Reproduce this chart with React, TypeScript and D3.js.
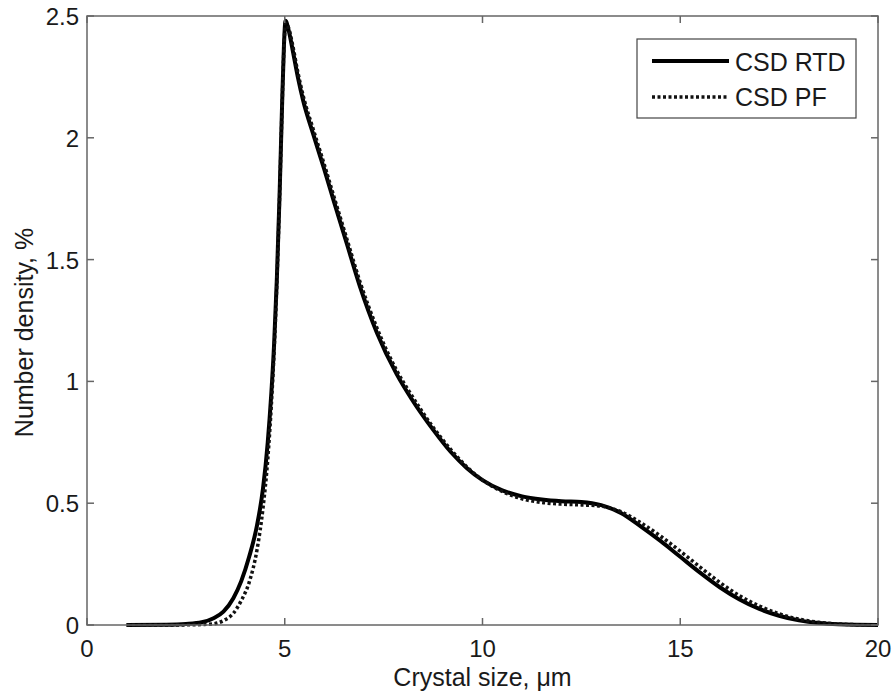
import React from "react";
import * as d3 from "d3";

const sizes = [1, 2, 2.5, 2.9, 3.2, 3.45, 3.7, 3.9, 4.1, 4.3, 4.45, 4.57, 4.66, 4.73, 4.8, 4.87, 4.93, 4.98, 5.02, 5.1, 5.2, 5.33, 5.47, 5.72, 6.0, 6.25, 6.57, 6.9, 7.33, 7.83, 8.2, 8.76, 9.2, 9.6, 10, 10.5, 11, 11.5, 12, 12.5, 13, 13.5, 14, 14.5, 15, 15.5, 16, 16.5, 17, 17.5, 18, 18.5, 19, 20];
const csdRTD = [0, 0.001, 0.004, 0.011, 0.028, 0.055, 0.11, 0.18, 0.28, 0.41, 0.56, 0.75, 0.95, 1.15, 1.42, 1.77, 2.12, 2.38, 2.48, 2.44, 2.36, 2.25, 2.15, 2.015, 1.87, 1.735, 1.565, 1.39, 1.2, 1.03, 0.93, 0.8, 0.71, 0.645, 0.595, 0.553, 0.528, 0.515, 0.508, 0.505, 0.492, 0.46, 0.405, 0.345, 0.28, 0.215, 0.155, 0.105, 0.066, 0.038, 0.019, 0.008, 0.003, 0];
const csdPF = [0, 0, 0.0005, 0.002, 0.005, 0.018, 0.048, 0.1, 0.175, 0.31, 0.48, 0.68, 0.9, 1.12, 1.4, 1.76, 2.11, 2.37, 2.47, 2.45, 2.38, 2.27, 2.17, 2.035, 1.89, 1.755, 1.585, 1.41, 1.22, 1.045, 0.945, 0.81, 0.72, 0.65, 0.595, 0.548, 0.518, 0.503, 0.496, 0.493, 0.488, 0.465, 0.42, 0.365, 0.303, 0.238, 0.175, 0.12, 0.078, 0.046, 0.024, 0.011, 0.004, 0];

const xTicks = [0, 5, 10, 15, 20];
const yTicks = [0, 0.5, 1, 1.5, 2, 2.5];
const legendLabels = ["CSD RTD", "CSD PF"];

export default function App() {
  const W = 894, H = 697;
  const left = 87, right = 878, top = 16, bottom = 625;
  const x = d3.scaleLinear().domain([0, 20]).range([left, right]);
  const y = d3.scaleLinear().domain([0, 2.5]).range([bottom, top]);
  const line = d3.line<number>().x((_, i) => x(sizes[i])).y((d) => y(d)).curve(d3.curveMonotoneX);
  const font = "'Liberation Sans', Arial, sans-serif";
  const axisColor = "#666";
  const textColor = "#1a1a1a";
  const tl = 7;
  const fs = 24;
  return (
    <svg width={W} height={H} style={{ position: "absolute", left: 0, top: 0, background: "#fff" }} fontFamily={font}>
      <rect x={0} y={0} width={W} height={H} fill="#fff" />
      <path d={line(csdRTD) || ""} fill="none" stroke="#000" strokeWidth={4} strokeLinejoin="round" />
      <path d={line(csdPF) || ""} fill="none" stroke="#111" strokeWidth={3.5} strokeDasharray="3 2.5" />
      <rect x={left} y={top} width={right - left} height={bottom - top} fill="none" stroke={axisColor} strokeWidth={1.5} />
      {xTicks.map((t) => (
        <g key={"x" + t}>
          <line x1={x(t)} x2={x(t)} y1={bottom} y2={bottom - tl} stroke={axisColor} strokeWidth={1.5} />
          <line x1={x(t)} x2={x(t)} y1={top} y2={top + tl} stroke={axisColor} strokeWidth={1.5} />
          <text x={x(t)} y={bottom + 32} textAnchor="middle" fontSize={fs} fill={textColor}>{t}</text>
        </g>
      ))}
      {yTicks.map((t) => (
        <g key={"y" + t}>
          <line x1={left} x2={left + tl} y1={y(t)} y2={y(t)} stroke={axisColor} strokeWidth={1.5} />
          <line x1={right} x2={right - tl} y1={y(t)} y2={y(t)} stroke={axisColor} strokeWidth={1.5} />
          <text x={left - 8} y={y(t) + 9} textAnchor="end" fontSize={fs} fill={textColor}>{t}</text>
        </g>
      ))}
      <text x={(left + right) / 2} y={686} textAnchor="middle" fontSize={25} fill={textColor}>Crystal size, μm</text>
      <text transform={`translate(33, ${(top + bottom) / 2 + 12}) rotate(-90)`} textAnchor="middle" fontSize={25} fill={textColor}>Number density, %</text>
      <g>
        <rect x={637} y={39} width={219} height={79} fill="#fff" stroke="#444" strokeWidth={1.2} />
        <line x1={652} x2={729} y1={61} y2={61} stroke="#000" strokeWidth={4} />
        <line x1={652} x2={729} y1={97} y2={97} stroke="#111" strokeWidth={3.5} strokeDasharray="3 2.5" />
        <text x={735} y={71} fontSize={25} fill={textColor}>{legendLabels[0]}</text>
        <text x={735} y={106} fontSize={25} fill={textColor}>{legendLabels[1]}</text>
      </g>
    </svg>
  );
}
